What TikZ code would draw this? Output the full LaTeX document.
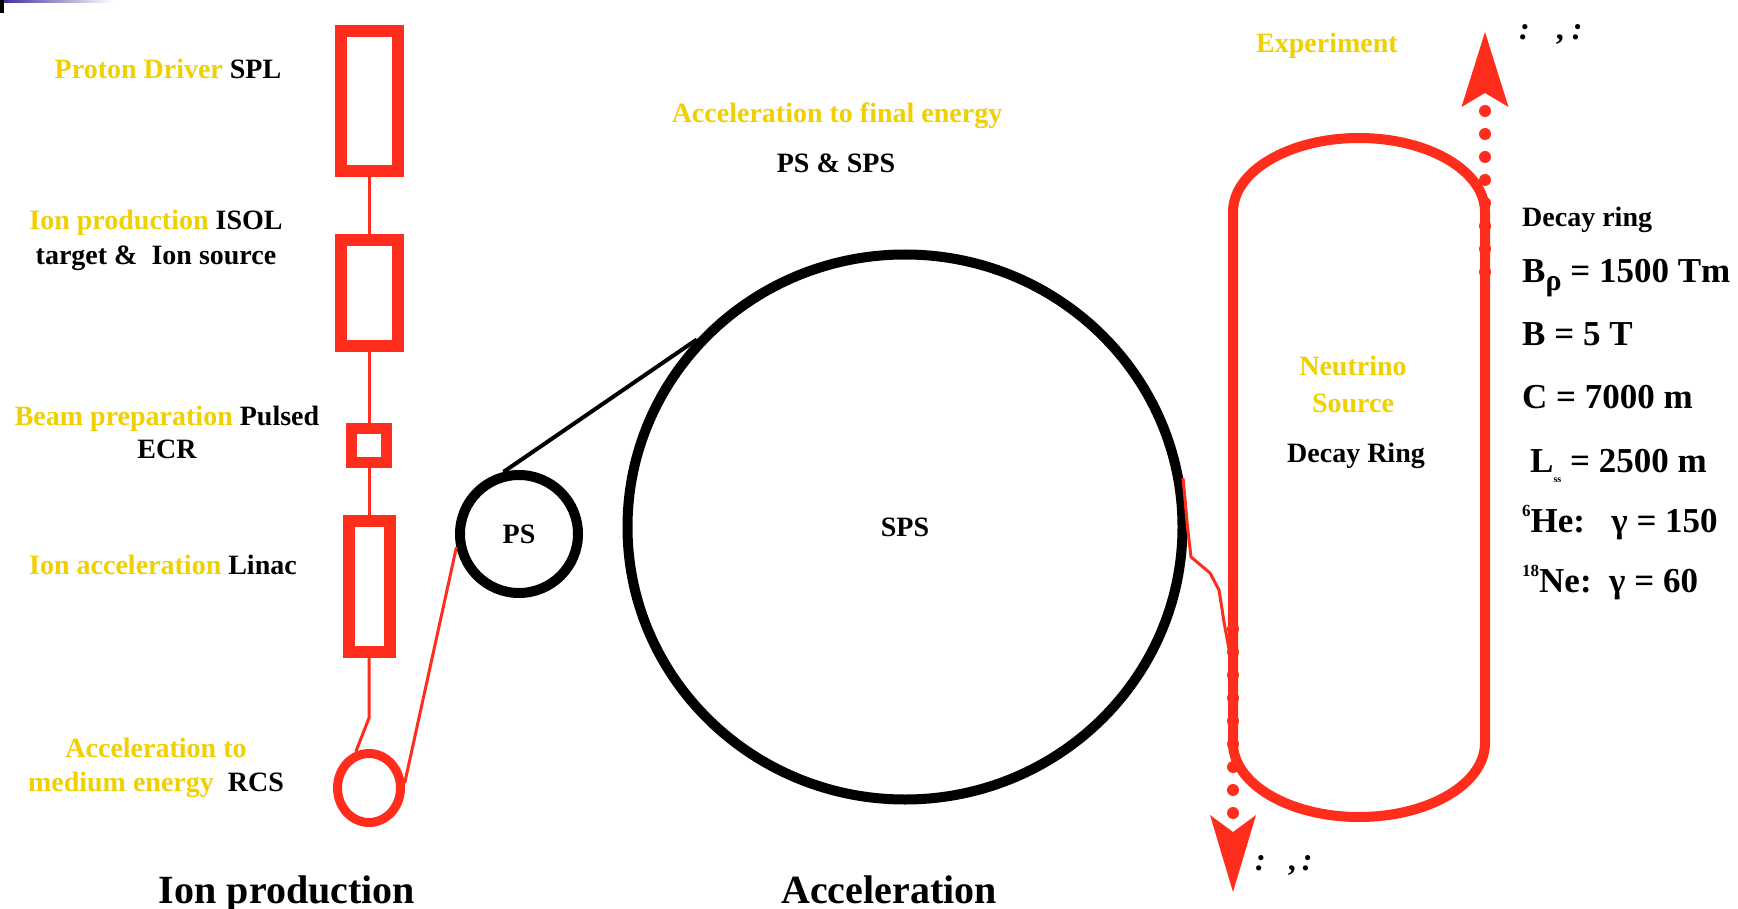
\documentclass[tikz,border=0pt]{standalone}
\usepackage{fontspec}
\setmainfont{Liberation Serif}
\usetikzlibrary{arrows.meta,shapes.geometric}
\definecolor{beamred}{RGB}{255,45,28}
\definecolor{labelgold}{RGB}{240,208,0}
\definecolor{slideblue}{RGB}{58,46,150}
\newcommand{\gold}[1]{\textcolor{labelgold}{#1}}
\begin{document}
\begin{tikzpicture}[x=1pt, y=-1pt,
  txt/.style={font=\fontsize{28}{34}\selectfont\bfseries, inner sep=0pt, anchor=base},
  param/.style={font=\fontsize{35}{40}\selectfont\bfseries, inner sep=0pt, anchor=base west},
  heading/.style={font=\fontsize{40}{46}\selectfont\bfseries, inner sep=0pt, anchor=base},
  linacbox/.style={draw=beamred, rectangle, inner sep=0pt, line width=12pt},
  ringnode/.style={draw=black, ellipse, inner sep=0pt, line width=10pt,
    font=\fontsize{28}{34}\selectfont\bfseries},
  beamline/.style={draw=beamred, line width=3pt},
  decayring/.style={draw=beamred, line width=10pt},
  nuflux/.style={draw=beamred, line width=12pt, line cap=round,
    dash pattern=on 0pt off 23pt},
  marks/.style={font=\fontsize{32}{32}\selectfont\bfseries, inner sep=0pt, anchor=base west},
]
% page background and slide corner
\fill[white] (0,0) rectangle (1738,909);
\useasboundingbox (0,0) rectangle (1738,909);
\shade[left color=slideblue, right color=white] (0,0) rectangle (113,2.5);
\fill[black] (0,0) rectangle (3.5,13);

% ---- ion production chain ----
\node[linacbox, minimum width=57pt, minimum height=140pt] (spl) at (369,101) {};
\node[linacbox, minimum width=57pt, minimum height=106pt] (isol) at (369,293) {};
\node[linacbox, line width=11pt, minimum width=35pt, minimum height=34pt] (ecr) at (369,445.5) {};
\node[linacbox, minimum width=41pt, minimum height=131pt] (linac) at (369,586.5) {};
\node[draw=beamred, ellipse, inner sep=0pt, line width=9pt,
      minimum width=63pt, minimum height=69pt] (rcs) at (369,788) {};

\draw[beamline] (spl) -- (isol);
\draw[beamline] (isol) -- (ecr);
\draw[beamline] (ecr) -- (linac);
\coordinate (rcsbend) at (369,718);
\draw[beamline] (linac.south) -- (rcsbend) -- (rcs.110);

% ---- PS and SPS ----
\node[ringnode, minimum width=118pt, minimum height=118pt] (ps) at (519,534) {PS};
\node[ringnode, minimum width=555pt, minimum height=545pt] (sps) at (905,527) {SPS};

\draw[beamline] (rcs.8) -- (ps.192);
\draw[black, line width=4pt] (ps.104) -- (sps.138);

% ---- decay ring ----
\coordinate (ringin) at (1231,660);
\draw[beamline] (sps.10) -- (sps.0) -- (1191,557) -- (1210,573) -- (1219,590)
  -- (1224,622) -- (ringin);

\draw[decayring] (1233,212) -- (1233,743)
  arc[start angle=180, end angle=0, x radius=126, y radius=74]
  -- (1485,212)
  arc[start angle=0, end angle=-180, x radius=126, y radius=74] -- cycle;

\coordinate (ringtop) at (1485,272);
\coordinate (exptip) at (1485,32);
\coordinate (ringlow) at (1233,629);
\coordinate (fartip) at (1233,892);
\draw[nuflux, -{Stealth[length=75pt, width=47pt, inset=14pt, line width=0pt]}] (ringtop) -- (exptip);
\draw[nuflux, -{Stealth[length=77pt, width=46pt, inset=17pt, line width=0pt]}] (ringlow) -- (fartip);

% ---- labels: ion production ----
\node[txt] (lspl) at (168,79) {\gold{Proton Driver} SPL};
\node[txt] (lisol) at (156,230) {\gold{Ion production} ISOL};
\node[txt] (lisolb) at (156,265) {target \&\ \ Ion source};
\node[txt] (lecr) at (167,425) {\gold{Beam preparation} Pulsed};
\node[txt] (lecrb) at (167,458) {ECR};
\node[txt] (llinac) at (163,574) {\gold{Ion acceleration} Linac};
\node[txt] (lrcs) at (156,757) {\gold{Acceleration to}};
\node[txt] (lrcsb) at (156,791) {\gold{medium energy}\ \ RCS};
\node[heading] (hion) at (287,903) {Ion production};

% ---- labels: acceleration ----
\node[txt] (lfinal) at (837,123) {\gold{Acceleration to final energy}};
\node[txt] (lpssps) at (836,173) {PS \& SPS};
\node[heading] (hacc) at (889,903) {Acceleration};

% ---- labels: decay ring ----
\node[txt] (lexp) at (1327,53) {\gold{Experiment}};
\node[txt] (lnu) at (1353,375) {\gold{Neutrino}};
\node[txt] (lsrc) at (1353,412) {\gold{Source}};
\node[txt] (ldr) at (1356,462) {Decay Ring};

\node[txt, anchor=base west] (pdr) at (1522,227) {Decay ring};
\node[param] (pbrho) at (1522,283) {B\raisebox{-0.22em}{\fontsize{30}{30}\selectfont ρ} = 1500 Tm};
\node[param] (pb) at (1522,345) {B = 5 T};
\node[param] (pc) at (1522,408) {C = 7000 m};
\node[param] (pl) at (1530,472) {L\raisebox{-0.3em}{\fontsize{10}{10}\selectfont ss} = 2500 m};
\node[param] (phe) at (1522,532) {\raisebox{0.45em}{\fontsize{17}{17}\selectfont 6}He:\ \ \ γ = 150};
\node[param] (pne) at (1522,592) {\raisebox{0.45em}{\fontsize{17}{17}\selectfont 18}Ne:\ \ γ = 60};

\node[marks] (mtop) at (1519,40) {\itshape :\hspace{26pt}\upshape ,\hspace{8pt}\itshape :};
\node[marks] (mbot) at (1255,870) {\itshape :\hspace{22pt}\upshape ,\hspace{6pt}\itshape :};
\end{tikzpicture}
\end{document}
